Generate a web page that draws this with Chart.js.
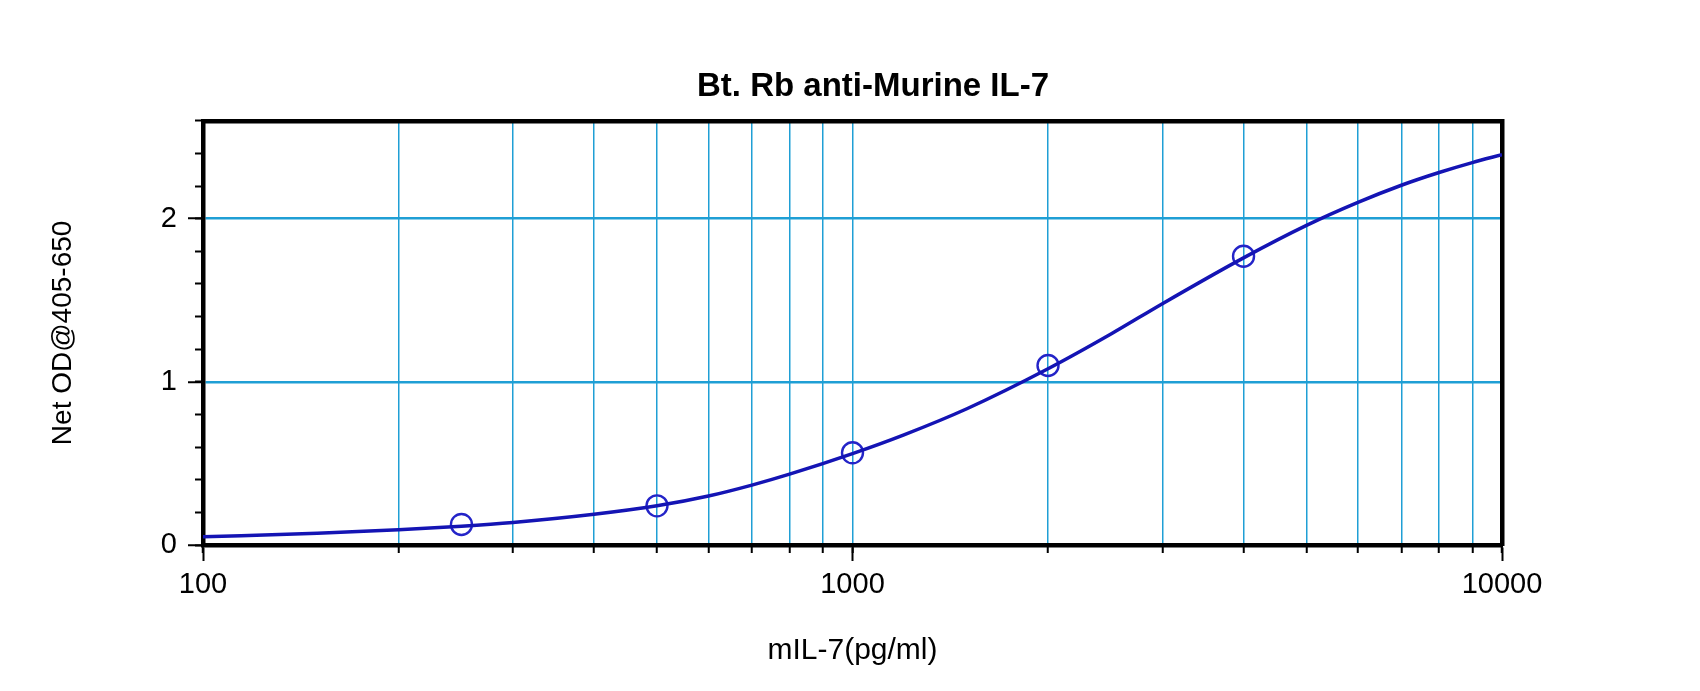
<!DOCTYPE html>
<html>
<head>
<meta charset="utf-8">
<script src="https://cdn.jsdelivr.net/npm/chart.js@4/dist/chart.umd.min.js"></script>
<style>
  html, body { margin: 0; padding: 0; background: #ffffff; }
  #wrap { width: 1700px; height: 691px; position: relative; }
</style>
</head>
<body>
<div id="wrap"><canvas id="c"></canvas></div>
<script>
// ---- data ----
const chartTitle = 'Bt. Rb anti-Murine IL-7';
const xTitle = 'mIL-7(pg/ml)';
const yTitle = 'Net OD@405-650';

const pointConc = [250, 500, 1000, 2000, 4000];
const pointOD   = [0.126, 0.24, 0.565, 1.10, 1.77];

const curveConc = [100, 150, 200, 250, 300, 400, 500, 600, 700, 800, 1000, 1200, 1500, 2000, 2500, 3000, 4000, 5000, 6000, 7000, 8000, 9000, 10000];
const curveOD   = [0.050, 0.072, 0.093, 0.115, 0.138, 0.188, 0.240, 0.300, 0.367, 0.434, 0.560, 0.675, 0.835, 1.080, 1.293, 1.479, 1.760, 1.959, 2.100, 2.205, 2.283, 2.344, 2.392];

const xMajorTicks = [100, 1000, 10000];
const xGridTicks  = [100, 200, 300, 400, 500, 600, 700, 800, 900, 1000, 2000, 3000, 4000, 5000, 6000, 7000, 8000, 9000, 10000];
const yMajorTicks = [0, 1, 2];
const yMinorTicks = [0, 0.2, 0.4, 0.6, 0.8, 1, 1.2, 1.4, 1.6, 1.8, 2, 2.2, 2.4, 2.6];

// ---- styles ----
const GRID = '#1f9fd5';
const FONT = "'Liberation Sans', Arial, sans-serif";

const curveData = curveConc.map((x, i) => ({x: x, y: curveOD[i]}));
const pointData = pointConc.map((x, i) => ({x: x, y: pointOD[i]}));

const setTicks = (arr) => (scale) => { scale.ticks = arr.map(v => ({value: v})); };

new Chart(document.getElementById('c'), {
  type: 'scatter',
  data: {
    datasets: [
      {
        label: 'fit',
        data: curveData,
        showLine: true,
        borderColor: '#1414b4',
        borderWidth: 3.5,
        pointRadius: 0,
        cubicInterpolationMode: 'monotone',
        fill: false,
        xAxisID: 'x',
        yAxisID: 'y'
      },
      {
        label: 'std',
        data: pointData,
        showLine: false,
        pointStyle: 'circle',
        pointRadius: 10.5,
        pointBorderWidth: 2.4,
        pointBorderColor: '#2424c8',
        pointBackgroundColor: 'rgba(0,0,0,0)',
        xAxisID: 'x',
        yAxisID: 'y'
      }
    ]
  },
  options: {
    responsive: true,
    maintainAspectRatio: false,
    animation: false,
    events: [],
    layout: { padding: { left: 46, right: 0, top: 0, bottom: 0 } },
    plugins: {
      legend: { display: false },
      tooltip: { enabled: false },
      title: {
        display: true,
        text: chartTitle,
        color: '#000000',
        font: { family: FONT, size: 33, weight: 'bold', lineHeight: 1.2 },
        padding: { top: 67, bottom: 14.2 }
      }
    },
    scales: {
      x: {
        type: 'logarithmic',
        position: 'bottom',
        weight: 1,
        min: 100, max: 10000,
        afterBuildTicks: setTicks(xMajorTicks),
        afterFit: (s) => { s.height = 146; },
        ticks: {
          color: '#000000',
          font: { family: FONT, size: 29 },
          padding: 7,
          maxRotation: 0,
          autoSkip: false,
          callback: (v) => String(v)
        },
        grid: { drawOnChartArea: false, tickLength: 16, tickWidth: 2, tickColor: '#000000' },
        border: { display: true, color: '#000000', width: 4.5 },
        title: {
          display: true, text: xTitle, color: '#000000',
          font: { family: FONT, size: 30, lineHeight: 1.2 },
          padding: { top: 0, bottom: 22 }
        }
      },
      xMinor: {
        type: 'logarithmic',
        position: 'bottom',
        weight: 0,
        min: 100, max: 10000,
        afterBuildTicks: setTicks(xGridTicks),
        afterFit: (s) => { s.height = 0; },
        ticks: { display: false },
        grid: {
          drawOnChartArea: true,
          color: (ctx) => (ctx.tick && (ctx.tick.value === 100 || ctx.tick.value === 10000)) ? 'rgba(0,0,0,0)' : GRID,
          lineWidth: 1.5,
          tickLength: 8, tickWidth: 2, tickColor: '#000000'
        },
        border: { display: false }
      },
      y: {
        type: 'linear',
        position: 'left',
        weight: 1,
        min: 0, max: 2.6,
        afterBuildTicks: setTicks(yMajorTicks),
        afterFit: (s) => { s.width = 157; },
        ticks: {
          color: '#000000',
          font: { family: FONT, size: 29 },
          padding: 11,
          callback: (v) => String(v)
        },
        grid: {
          drawOnChartArea: true,
          color: (ctx) => (ctx.tick && ctx.tick.value === 0) ? 'rgba(0,0,0,0)' : GRID,
          lineWidth: 2.5,
          tickLength: 15, tickWidth: 2, tickColor: '#000000'
        },
        border: { display: true, color: '#000000', width: 4.5 },
        title: {
          display: true, text: yTitle, color: '#000000',
          font: { family: FONT, size: 28, lineHeight: 1.2 },
          padding: { top: 0, bottom: 0 }
        }
      },
      yMinor: {
        type: 'linear',
        position: 'left',
        weight: 0,
        min: 0, max: 2.6,
        afterBuildTicks: setTicks(yMinorTicks),
        afterFit: (s) => { s.width = 0; },
        ticks: { display: false },
        grid: { drawOnChartArea: false, tickLength: 8, tickWidth: 2, tickColor: '#000000' },
        border: { display: false }
      },
      xTop: {
        type: 'linear',
        position: 'top',
        min: 0, max: 1,
        afterFit: (s) => { s.height = 0; },
        ticks: { display: false },
        grid: { display: false },
        border: { display: true, color: '#000000', width: 4.5 }
      },
      yRight: {
        type: 'linear',
        position: 'right',
        min: 0, max: 1,
        afterFit: (s) => { s.width = 198; },
        ticks: { display: false },
        grid: { display: false },
        border: { display: true, color: '#000000', width: 4.5 }
      }
    }
  }
});
</script>
</body>
</html>
